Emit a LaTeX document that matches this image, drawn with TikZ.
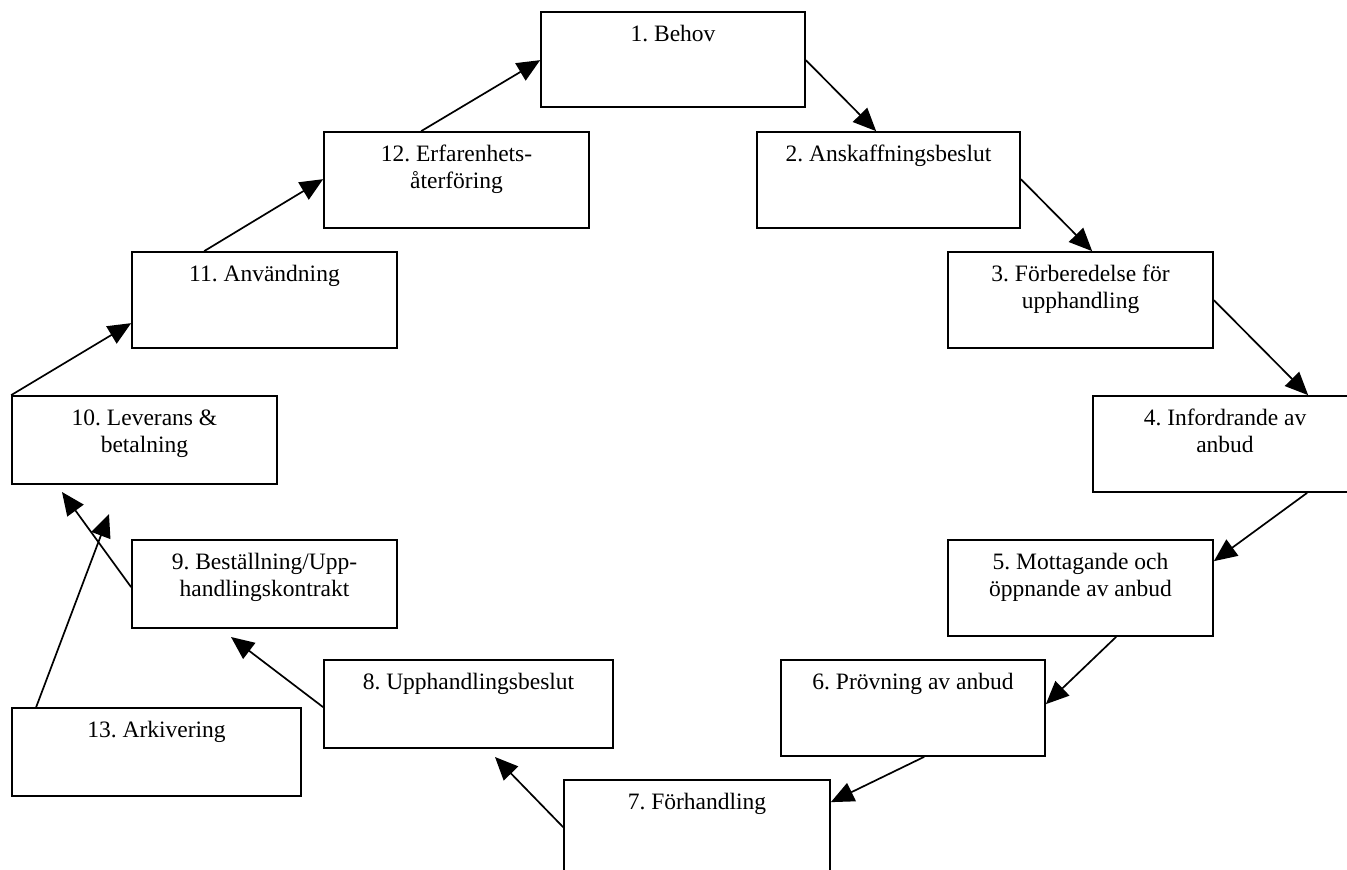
\documentclass[tikz,border=0pt]{standalone}
\usepackage{fontspec}
\setmainfont{Liberation Serif}
\usetikzlibrary{arrows.meta,fit,calc}
\frenchspacing
\newcommand{\fl}{\rule{0pt}{22pt}}
\tikzset{
  box/.style={draw, line width=1.7pt, inner sep=0pt},
  txt/.style={anchor=north, align=center, inner sep=0pt, font=\fontsize{23.5}{27.5}\selectfont},
  conn/.style={line width=1.7pt, -{Triangle[length=23pt,width=20pt]}},
  plainconn/.style={line width=1.7pt}
}
\begin{document}
\begin{tikzpicture}[x=1pt,y=-1pt]
\useasboundingbox (0,0) rectangle (1347,870);
% boxes
\node[box, fit={(541,12) (805,107)}] (b1) {};
\node[box, fit={(757,132) (1020,228)}] (b2) {};
\node[box, fit={(948,252) (1213,348)}] (b3) {};
\node[box, fit={(1093,396) (1357,492)}] (b4) {};
\node[box, fit={(948,540) (1213,636)}] (b5) {};
\node[box, fit={(781,660) (1045,756)}] (b6) {};
\node[box, fit={(564,780) (830,876)}] (b7) {};
\node[box, fit={(324,660) (613,748)}] (b8) {};
\node[box, fit={(132,540) (397,628)}] (b9) {};
\node[box, fit={(12,396) (277,484)}] (b10) {};
\node[box, fit={(132,252) (397,348)}] (b11) {};
\node[box, fit={(324,132) (589,228)}] (b12) {};
\node[box, fit={(12,708) (301,796)}] (b13) {};
% texts
\node[txt] (t1) at ([yshift=-8pt]b1.north) {\fl 1. Behov};
\node[txt] (t2) at ([yshift=-8pt]b2.north) {\fl 2. Anskaffningsbeslut};
\node[txt] (t3) at ([yshift=-8pt]b3.north) {\fl 3. Förberedelse för\\upphandling};
\node[txt] (t4) at ([yshift=-8pt]b4.north) {\fl 4. Infordrande av\\anbud};
\node[txt] (t5) at ([yshift=-8pt]b5.north) {\fl 5. Mottagande och\\öppnande av anbud};
\node[txt] (t6) at ([yshift=-8pt]b6.north) {\fl 6. Prövning av anbud};
\node[txt] (t7) at ([yshift=-8pt]b7.north) {\fl 7. Förhandling};
\node[txt] (t8) at ([yshift=-8pt]b8.north) {\fl 8. Upphandlingsbeslut};
\node[txt] (t9) at ([yshift=-8pt]b9.north) {\fl 9. Beställning/Upp-\\handlingskontrakt};
\node[txt] (t10) at ([yshift=-8pt]b10.north) {\fl 10. Leverans \&\\betalning};
\node[txt] (t11) at ([yshift=-8pt]b11.north) {\fl 11. Användning};
\node[txt] (t12) at ([yshift=-8pt]b12.north) {\fl 12. Erfarenhets-\\återföring};
\node[txt] (t13) at ([yshift=-8pt]b13.north) {\fl 13. Arkivering};
% free ends
\coordinate (c8) at (495,757);
\coordinate (c9) at (231,637);
\coordinate (c10a) at (62,492);
\coordinate (c10b) at (109,514);
% connectors
\draw[conn] ([xshift=98pt]b12.north west) -- ([yshift=-49pt]b1.north west);
\draw[conn] ([yshift=-49pt]b1.north east) -- ([xshift=120pt]b2.north west);
\draw[conn] ([yshift=-48pt]b2.north east) -- ([xshift=145pt]b3.north west);
\draw[conn] ([yshift=-49pt]b3.north east) -- ([xshift=216pt]b4.north west);
\draw[conn] ([xshift=215pt]b4.south west) -- ([yshift=-22pt]b5.north east);
\draw[conn] ([xshift=169pt]b5.south west) -- ([yshift=-45pt]b6.north east);
\draw[conn] ([xshift=144pt]b6.south west) -- ([yshift=-23pt]b7.north east);
\draw[conn] ([yshift=-48pt]b7.north west) -- (c8);
\draw[conn] ([yshift=-48pt]b8.north west) -- (c9);
\draw[conn] ([yshift=-48pt]b9.north west) -- (c10a);
\draw[conn] ([xshift=25pt]b13.north west) -- (c10b);
\draw[conn] (b10.north west) -- ([yshift=-72pt]b11.north west);
\draw[conn] ([xshift=73pt]b11.north west) -- ([yshift=-48pt]b12.north west);
\end{tikzpicture}
\end{document}
